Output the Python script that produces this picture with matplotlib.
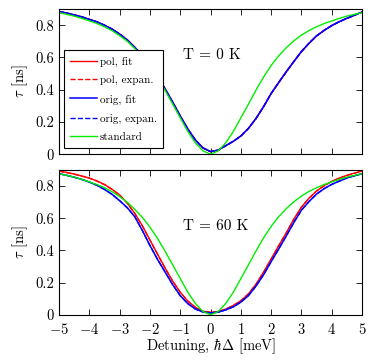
import matplotlib
matplotlib.use("Agg")
import matplotlib.pyplot as plt

plt.rcParams['font.family'] = 'cmr10'
plt.rcParams['mathtext.fontset'] = 'cm'
plt.rcParams['axes.unicode_minus'] = False

# detuning grid (meV)
detuning = [-5, -4.75, -4.5, -4.25, -4, -3.75, -3.5, -3.25, -3, -2.75, -2.5, -2.25, -2, -1.75,
            -1.5, -1.25, -1, -0.75, -0.5, -0.25, 0, 0.25, 0.5, 0.75, 1, 1.25, 1.5, 1.75,
            2, 2.25, 2.5, 2.75, 3, 3.25, 3.5, 3.75, 4, 4.25, 4.5, 4.75, 5]

# standard model (same in both panels)
standard = [0.877, 0.867, 0.856, 0.842, 0.826, 0.81, 0.79, 0.765, 0.735, 0.70, 0.655, 0.605, 0.545, 0.475,
            0.395, 0.31, 0.225, 0.14, 0.07, 0.02, 0.0, 0.02, 0.07, 0.14, 0.225, 0.31, 0.397, 0.478,
            0.55, 0.61, 0.66, 0.703, 0.738, 0.767, 0.79, 0.81, 0.826, 0.842, 0.856, 0.867, 0.877]

# T = 0 K
pol_fit_0 = [0.885, 0.875, 0.864, 0.851, 0.836, 0.82, 0.80, 0.775, 0.745, 0.708, 0.663, 0.612, 0.553, 0.483,
             0.405, 0.322, 0.237, 0.155, 0.088, 0.038, 0.015, 0.025, 0.052, 0.08, 0.112, 0.16, 0.22, 0.295,
             0.375, 0.445, 0.51, 0.575, 0.635, 0.688, 0.733, 0.768, 0.797, 0.822, 0.842, 0.862, 0.882]
pol_exp_0 = [0.885, 0.875, 0.864, 0.851, 0.836, 0.82, 0.80, 0.775, 0.745, 0.708, 0.663, 0.612, 0.553, 0.483,
             0.405, 0.322, 0.237, 0.155, 0.088, 0.038, 0.015, 0.025, 0.052, 0.08, 0.112, 0.16, 0.22, 0.295,
             0.375, 0.445, 0.51, 0.575, 0.635, 0.688, 0.733, 0.768, 0.797, 0.822, 0.842, 0.862, 0.882]
orig_fit_0 = [0.884, 0.875, 0.863, 0.852, 0.835, 0.821, 0.799, 0.776, 0.744, 0.709, 0.662, 0.613, 0.552, 0.484,
              0.404, 0.323, 0.236, 0.156, 0.087, 0.039, 0.016, 0.024, 0.053, 0.079, 0.113, 0.159, 0.222, 0.294,
              0.377, 0.444, 0.512, 0.574, 0.637, 0.687, 0.734, 0.767, 0.798, 0.821, 0.843, 0.861, 0.881]
orig_exp_0 = [0.884, 0.875, 0.863, 0.851, 0.835, 0.82, 0.799, 0.775, 0.744, 0.708, 0.662, 0.612, 0.552, 0.483,
              0.404, 0.322, 0.236, 0.155, 0.087, 0.038, 0.016, 0.025, 0.052, 0.08, 0.112, 0.16, 0.221, 0.295,
              0.376, 0.445, 0.511, 0.575, 0.636, 0.688, 0.733, 0.768, 0.797, 0.822, 0.842, 0.862, 0.881]

# T = 60 K
pol_fit_60 = [0.894, 0.885, 0.875, 0.863, 0.85, 0.832, 0.81, 0.78, 0.745, 0.695, 0.63, 0.553, 0.465, 0.377,
              0.29, 0.21, 0.14, 0.085, 0.046, 0.022, 0.015, 0.02, 0.035, 0.058, 0.087, 0.13, 0.19, 0.265,
              0.347, 0.43, 0.51, 0.595, 0.67, 0.725, 0.77, 0.803, 0.83, 0.85, 0.867, 0.881, 0.894]
pol_exp_60 = [0.893, 0.884, 0.874, 0.862, 0.849, 0.831, 0.809, 0.779, 0.744, 0.694, 0.629, 0.552, 0.464, 0.376,
              0.289, 0.209, 0.139, 0.085, 0.046, 0.022, 0.015, 0.02, 0.035, 0.058, 0.087, 0.13, 0.19, 0.265,
              0.346, 0.429, 0.509, 0.594, 0.669, 0.724, 0.769, 0.802, 0.829, 0.849, 0.866, 0.88, 0.893]
orig_fit_60 = [0.877, 0.867, 0.855, 0.842, 0.825, 0.805, 0.779, 0.749, 0.709, 0.666, 0.609, 0.524, 0.431, 0.344,
               0.266, 0.187, 0.119, 0.069, 0.036, 0.017, 0.012, 0.016, 0.031, 0.049, 0.079, 0.119, 0.179, 0.249,
               0.331, 0.409, 0.491, 0.574, 0.651, 0.704, 0.751, 0.784, 0.811, 0.831, 0.851, 0.864, 0.877]
orig_exp_60 = [0.877, 0.867, 0.855, 0.841, 0.825, 0.805, 0.78, 0.748, 0.71, 0.665, 0.61, 0.523, 0.43, 0.345,
               0.265, 0.188, 0.118, 0.07, 0.035, 0.018, 0.012, 0.016, 0.03, 0.05, 0.078, 0.12, 0.178, 0.25,
               0.33, 0.41, 0.49, 0.575, 0.65, 0.705, 0.75, 0.785, 0.81, 0.832, 0.85, 0.865, 0.877]

panels = [
    ('T = 0 K', pol_fit_0, pol_exp_0, orig_fit_0, orig_exp_0, 0.615),
    ('T = 60 K', pol_fit_60, pol_exp_60, orig_fit_60, orig_exp_60, 0.55),
]

fig = plt.figure(figsize=(3.74, 3.61), dpi=100)
ax_top = fig.add_axes([0.158, 0.573, 0.810, 0.402])
ax_bot = fig.add_axes([0.158, 0.128, 0.810, 0.401])

for ax, (label, pf, pe, of, oe, ty) in zip([ax_top, ax_bot], panels):
    ax.plot(detuning, pf, color='red', lw=1.0, label='pol, fit')
    ax.plot(detuning, pe, color='red', lw=1.0, ls='--', label='pol, expan.')
    ax.plot(detuning, of, color='blue', lw=1.1, label='orig, fit')
    ax.plot(detuning, oe, color='blue', lw=1.0, ls='--', label='orig, expan.')
    ax.plot(detuning, standard, color='#00ee00', lw=1.0, label='standard')
    ax.set_xlim(-5, 5)
    ax.set_ylim(0, 0.9)
    ax.set_yticks([0, 0.2, 0.4, 0.6, 0.8])
    ax.set_yticklabels(['0', '0.2', '0.4', '0.6', '0.8'])
    ax.set_xticks(range(-5, 6))
    ax.tick_params(direction='in', top=True, right=True, length=4, width=0.6, labelsize=10.5)
    ax.tick_params(axis='x', pad=5)
    ax.set_ylabel(r'$\tau$ [ns]', fontsize=10.5, labelpad=4)
    ax.text(-0.9, ty, label, fontsize=11, va='center', ha='left')
    for s in ax.spines.values():
        s.set_linewidth(0.8)

ax_top.set_xticklabels([])
ax_bot.set_xticklabels(['$%d$' % v if v >= 0 else '$-%d$' % -v for v in range(-5, 6)])
ax_bot.set_xlabel(r'Detuning, $\hbar\Delta$ [meV]', fontsize=10.5, labelpad=0)

leg = ax_top.legend(loc='lower left', bbox_to_anchor=(0.016, 0.04), borderaxespad=0,
                    fontsize=8, fancybox=False, framealpha=1, edgecolor='black',
                    handlelength=2.4, labelspacing=0.8, handletextpad=0.3, borderpad=0.55)
leg.get_frame().set_linewidth(0.8)

plt.savefig('out.png', dpi=100)
